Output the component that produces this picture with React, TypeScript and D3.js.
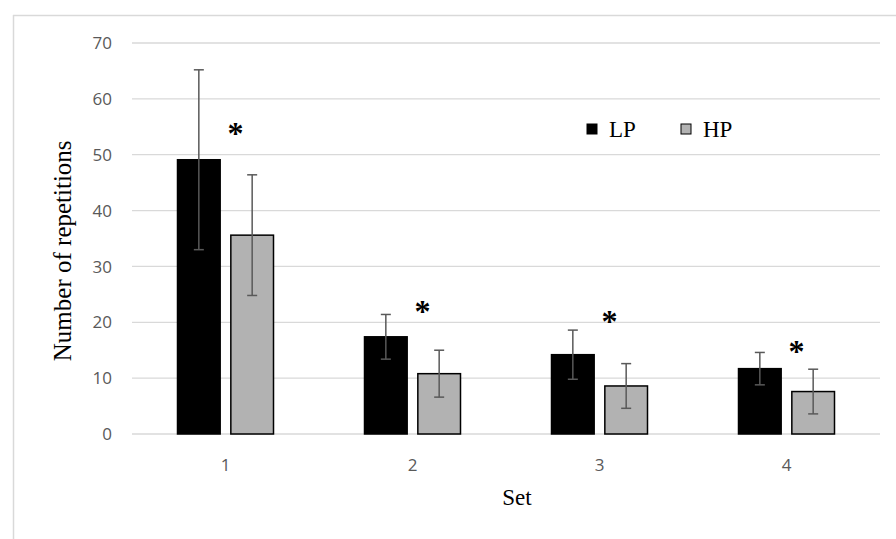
import React from "react";
import * as d3 from "d3";

const sets = ["1", "2", "3", "4"];
const series = ["LP", "HP"];
const lpMeans = [49.1, 17.4, 14.2, 11.7];
const lpErr = [16.1, 4.0, 4.4, 2.9];
const hpMeans = [35.6, 10.8, 8.6, 7.6];
const hpErr = [10.8, 4.2, 4.0, 4.0];
const starLevel = [55.3, 23.5, 21.7, 16.3];
const yTicks = [0, 10, 20, 30, 40, 50, 60, 70];

const W = 896;
const H = 539;
const margin = { top: 43, right: 16, bottom: 105, left: 132 };

const App = () => {
  const x = d3
    .scaleBand<string>()
    .domain(sets)
    .range([margin.left, 880]);
  const inner = d3
    .scaleBand<string>()
    .domain(series)
    .range([x.bandwidth() / 2 - 48, x.bandwidth() / 2 + 48])
    .paddingInner(0.2);
  const y = d3.scaleLinear().domain([0, 70]).range([434, 43]);

  const fills: Record<string, string> = { LP: "#000000", HP: "#b2b2b2" };
  const rows = sets.flatMap((s, i) => [
    { set: s, key: "LP", v: lpMeans[i], e: lpErr[i] },
    { set: s, key: "HP", v: hpMeans[i], e: hpErr[i] },
  ]);

  const serif = "'Liberation Serif', 'Times New Roman', serif";
  const sans = "'Open Sans', Roboto, sans-serif";

  return (
    <svg width={W} height={H} style={{ position: "absolute", left: 0, top: 0 }}>
      <rect width={W} height={H} fill="#fff" />
      {/* frame */}
      <line x1={13.5} x2={13.5} y1={15} y2={H} stroke="#d9d9d9" strokeWidth={1.5} />
      <line x1={13} x2={W} y1={15.5} y2={15.5} stroke="#d9d9d9" strokeWidth={1.5} />

      {/* grid */}
      {yTicks.map((t) => (
        <g key={t}>
          <line
            x1={margin.left}
            x2={880}
            y1={y(t)}
            y2={y(t)}
            stroke="#d9d9d9"
            strokeWidth={1.3}
          />
          <text
            x={112}
            y={y(t)}
            dy="0.36em"
            textAnchor="end"
            fontFamily={sans}
            fontSize={17}
            fill="#595959"
          >
            {t}
          </text>
        </g>
      ))}

      {/* bars */}
      {rows.map((d) => {
        const bx = (x(d.set) ?? 0) + (inner(d.key) ?? 0);
        const bw = inner.bandwidth();
        const cx = bx + bw / 2;
        return (
          <g key={d.set + d.key}>
            <rect
              x={bx}
              y={y(d.v)}
              width={bw}
              height={y(0) - y(d.v)}
              fill={fills[d.key]}
              stroke="#000"
              strokeWidth={1.5}
            />
            <g stroke="#595959" strokeWidth={1.5}>
              <line x1={cx} x2={cx} y1={y(d.v + d.e)} y2={y(d.v - d.e)} />
              <line x1={cx - 5} x2={cx + 5} y1={y(d.v + d.e)} y2={y(d.v + d.e)} />
              <line x1={cx - 5} x2={cx + 5} y1={y(d.v - d.e)} y2={y(d.v - d.e)} />
            </g>
          </g>
        );
      })}

      {/* significance */}
      {sets.map((s, i) => (
        <text
          key={"star" + s}
          x={(x(s) ?? 0) + x.bandwidth() / 2 + 10}
          y={y(starLevel[i])}
          dy="0.6em"
          textAnchor="middle"
          fontFamily={serif}
          fontWeight="bold"
          fontSize={32}
          fill="#000"
        >
          *
        </text>
      ))}

      {/* x tick labels */}
      {sets.map((s) => (
        <text
          key={"xt" + s}
          x={(x(s) ?? 0) + x.bandwidth() / 2}
          y={465}
          dy="0.36em"
          textAnchor="middle"
          fontFamily={sans}
          fontSize={17}
          fill="#595959"
        >
          {s}
        </text>
      ))}

      <text x={517} y={497} dy="0.36em" textAnchor="middle" fontFamily={serif} fontSize={23} fill="#000">
        Set
      </text>
      <text
        transform={`translate(62,${y(32.8)}) rotate(-90)`}
        dy="0.36em"
        textAnchor="middle"
        fontFamily={serif}
        fontSize={25}
        fill="#000"
      >
        Number of repetitions
      </text>

      {/* legend */}
      {series.map((k, i) => (
        <g key={"lg" + k} transform={`translate(${587 + i * 94},124)`}>
          <rect width={10} height={10} fill={fills[k]} stroke="#000" strokeWidth={1} />
          <text x={22} y={5} dy="0.36em" fontFamily={serif} fontSize={23} fill="#000">
            {k}
          </text>
        </g>
      ))}
    </svg>
  );
};

export default App;
